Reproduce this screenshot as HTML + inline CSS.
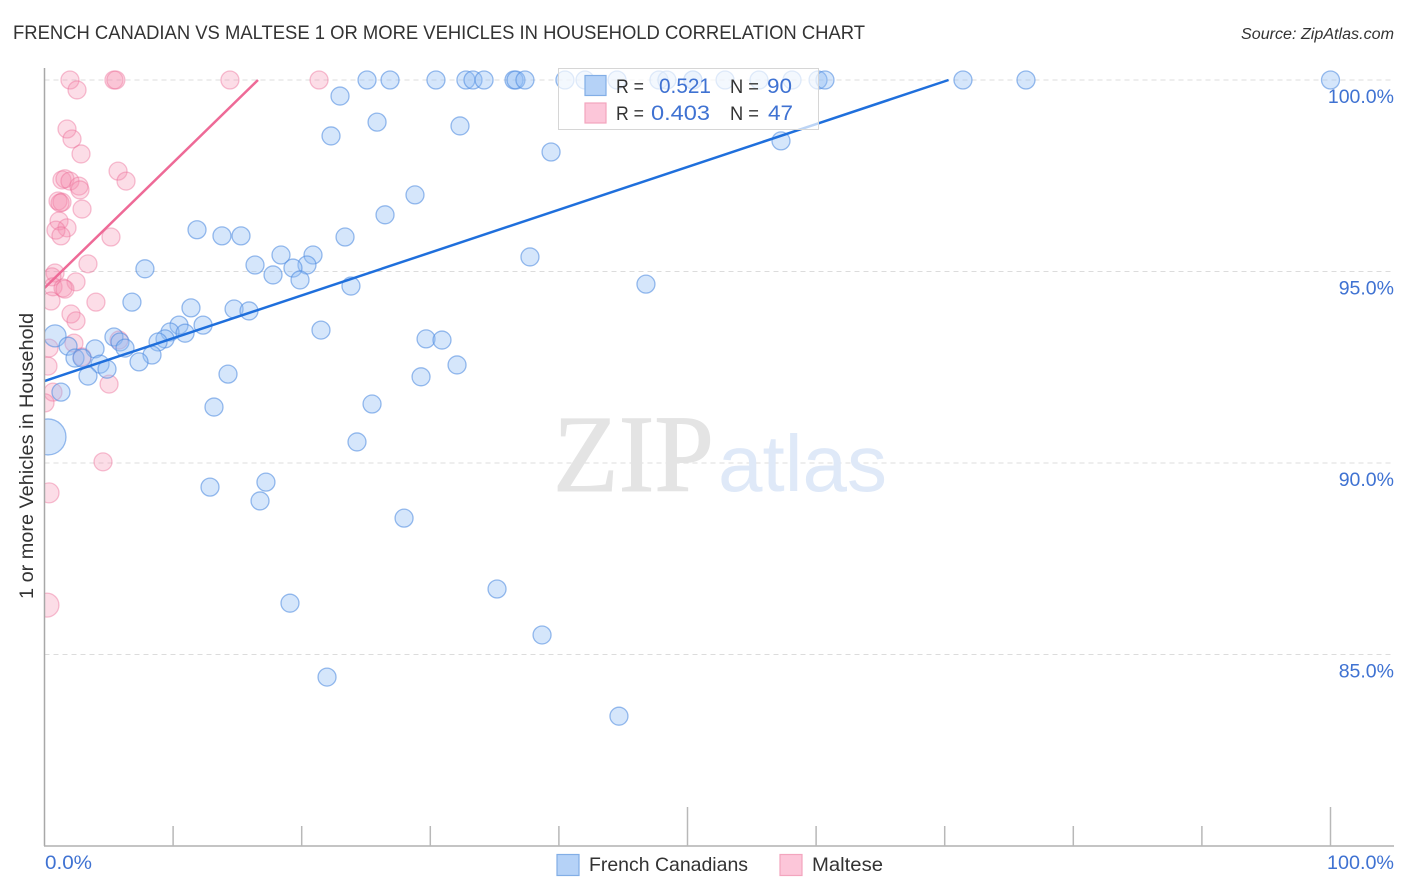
<!DOCTYPE html>
<html lang="en">
<head>
<meta charset="utf-8">
<title>French Canadian vs Maltese 1 or more Vehicles in Household Correlation Chart</title>
<style>
html,body{margin:0;padding:0;background:#fff;width:1406px;height:892px;overflow:hidden}
svg{display:block;font-family:"Liberation Sans",sans-serif}
</style>
</head>
<body>
<svg id="chart" width="1406" height="892" viewBox="0 0 1406 892" xmlns="http://www.w3.org/2000/svg">
  <rect width="1406" height="892" fill="#fff"/>
  <text x="13" y="39" font-size="19.5" fill="#333" textLength="852" lengthAdjust="spacingAndGlyphs">FRENCH CANADIAN VS MALTESE 1 OR MORE VEHICLES IN HOUSEHOLD CORRELATION CHART</text>
  <text x="1241" y="39" font-size="15.5" font-style="italic" fill="#333" textLength="153" lengthAdjust="spacingAndGlyphs">Source: ZipAtlas.com</text>
  <g id="grid"></g>
  <g>
    <text x="553" y="491" font-family="'Liberation Serif',serif" font-size="110" fill="#e4e4e4" stroke="#e4e4e4" stroke-width="1" textLength="161" lengthAdjust="spacingAndGlyphs">ZIP</text>
    <text x="718" y="491" font-size="80" fill="#dfe9f8" textLength="169" lengthAdjust="spacingAndGlyphs">atlas</text>
  </g>
  <g id="points"></g>
  <g id="trends"></g>
  <rect x="0" y="60" width="44.5" height="800" fill="#fff"/>
  <g id="axes">
    <line x1="44.5" y1="68" x2="44.5" y2="846" stroke="#a8a8a8" stroke-width="1.5"/>
    <line x1="44" y1="846" x2="1394" y2="846" stroke="#b0b0b0" stroke-width="1.5"/>
  </g>
  <g id="y-labels"></g>
  <text transform="translate(33,456) rotate(-90)" font-size="19" fill="#333" text-anchor="middle" textLength="286" lengthAdjust="spacingAndGlyphs">1 or more Vehicles in Household</text>
  <text x="45" y="869" font-size="19" fill="#3f72d2" textLength="47" lengthAdjust="spacingAndGlyphs">0.0%</text>
  <text x="1327" y="869" font-size="19" fill="#3f72d2" textLength="67" lengthAdjust="spacingAndGlyphs">100.0%</text>
  <g>
    <rect x="558.5" y="68.5" width="260" height="61" fill="#fff" fill-opacity="0.7" stroke="#d6d6d6" stroke-width="1"/>
    <rect x="585" y="75.500" width="21" height="20" fill="#b5d2f7" stroke="#82aee6" stroke-width="1.2"/>
    <rect x="585" y="103" width="21" height="20" fill="#fcc6d9" stroke="#f3a5be" stroke-width="1.2"/>
    <text x="616" y="93" font-size="19" fill="#333" textLength="28" lengthAdjust="spacingAndGlyphs">R =</text>
    <text x="659" y="93" font-size="21" fill="#3f72d2" textLength="52" lengthAdjust="spacingAndGlyphs">0.521</text>
    <text x="730" y="93" font-size="19" fill="#333" textLength="29" lengthAdjust="spacingAndGlyphs">N =</text>
    <text x="767" y="93" font-size="21" fill="#3f72d2" textLength="25" lengthAdjust="spacingAndGlyphs">90</text>
    <text x="616" y="120" font-size="19" fill="#333" textLength="28" lengthAdjust="spacingAndGlyphs">R =</text>
    <text x="651" y="120" font-size="21" fill="#3f72d2" textLength="59" lengthAdjust="spacingAndGlyphs">0.403</text>
    <text x="730" y="120" font-size="19" fill="#333" textLength="29" lengthAdjust="spacingAndGlyphs">N =</text>
    <text x="768" y="120" font-size="21" fill="#3f72d2" textLength="25" lengthAdjust="spacingAndGlyphs">47</text>
  </g>
  <g>
    <rect x="557" y="854.500" width="22" height="21" fill="#b5d2f7" stroke="#82aee6" stroke-width="1.2"/>
    <text x="589" y="871" font-size="19.500" fill="#333" textLength="159" lengthAdjust="spacingAndGlyphs">French Canadians</text>
    <rect x="780" y="854.500" width="22" height="21" fill="#fcc6d9" stroke="#f3a5be" stroke-width="1.2"/>
    <text x="812" y="871" font-size="19.500" fill="#333" textLength="71" lengthAdjust="spacingAndGlyphs">Maltese</text>
  </g>
</svg>
<script>
const xTicks = [10, 20, 30, 40, 50, 60, 70, 80, 90, 100];
const majorXTicks = [50, 100];
const yTicks = [100, 95, 90, 85];
const yTickLabels = ['100.0%', '95.0%', '90.0%', '85.0%'];

const blueX = [25.08,26.87,30.44,32.77,33.32,34.18,36.51,36.66,37.36,40.47,42.03,44.52,47.78,48.40,50.42,50.42,52.92,55.56,58.13,60.15,60.69,71.42,76.32,100,
22.98,22.28,25.86,32.31,39.39,57.27,28.81,26.48,11.86,13.80,15.28,23.37,37.75,7.81,16.37,18.39,20.88,20.41,19.32,17.77,19.87,23.83,46.77,6.80,11.39,14.74,15.90,21.50,12.33,10.46,9.76,10.93,9.37,8.83,29.67,30.91,0.82,1.83,3.93,5.40,5.87,6.26,8.36,7.35,2.37,2.92,4.32,4.86,3.38,32.08,29.28,14.27,1.28,25.47,13.18,24.30,0.27,12.87,17.22,16.76,27.96,35.19,19.09,38.69,21.97,44.67];
const blueY = [100,100,100,100,100,100,100,100,100,100,100,100,100,100,100,100,100,100,100,100,100,100,100,100,
99.58,98.54,98.90,98.80,98.12,98.41,97.00,96.48,96.09,95.93,95.93,95.90,95.38,95.07,95.17,95.43,95.43,95.17,95.09,94.91,94.78,94.62,94.67,94.20,94.05,94.02,93.97,93.47,93.60,93.60,93.42,93.39,93.24,93.16,93.24,93.21,93.32,93.05,92.98,93.29,93.16,93.00,92.82,92.64,92.74,92.74,92.58,92.45,92.27,92.56,92.25,92.32,91.85,91.54,91.46,90.55,90.68,89.37,89.50,89.01,88.56,86.71,86.34,85.51,84.41,83.39];
const blueLargeIndex = [60, 80];
const blueLargeRadius = [11, 18];

const pinkX = [1.98,2.53,5.40,5.55,14.42,21.35,1.75,2.14,2.84,5.72,6.34,1.36,1.59,1.98,2.68,2.76,1.05,1.36,1.21,2.92,1.13,1.75,0.89,1.28,5.17,3.38,0.82,0.58,2.45,0.66,1.44,1.59,0.51,4.00,2.06,2.45,5.79,2.29,0.35,2.92,0.27,5.02,0.66,0.04,4.55,0.35,0.19];
const pinkY = [100,99.74,100,100,100,100,98.72,98.46,98.07,97.62,97.36,97.39,97.42,97.36,97.23,97.13,96.84,96.81,96.79,96.63,96.32,96.14,96.08,95.93,95.90,95.20,94.96,94.86,94.73,94.60,94.57,94.54,94.23,94.20,93.89,93.71,93.21,93.13,93.00,92.77,92.53,92.06,91.85,91.57,90.03,89.22,86.29];
const pinkLargeIndex = [45, 46];
const pinkLargeRadius = [10, 12];

const blueTrendX = [0, 70.3];
const blueTrendY = [92.14, 100];
const pinkTrendX = [0, 16.6];
const pinkTrendY = [94.57, 100];

const NS = 'http://www.w3.org/2000/svg';
function xScale(v) { return 44.5 + v * 12.86; }
function yScale(v) { return 80 + (100 - v) * 38.3; }

const gridGroup = document.getElementById('grid');
yTicks.forEach(function (t) {
  const g = document.createElementNS(NS, 'line');
  
  
  g.setAttribute('x1', 44.5);
  g.setAttribute('x2', 1394);
  g.setAttribute('y1', yScale(t));
  g.setAttribute('y2', yScale(t));
  g.setAttribute('stroke', '#dcdcdc');
  g.setAttribute('stroke-width', '1');
  g.setAttribute('stroke-dasharray', '5 4');
  gridGroup.appendChild(g);
});

const axesGroup = document.getElementById('axes');
xTicks.forEach(function (t) {
  const k = document.createElementNS(NS, 'line');
  
  
  k.setAttribute('x1', xScale(t));
  k.setAttribute('x2', xScale(t));
  k.setAttribute('y1', majorXTicks.indexOf(t) >= 0 ? 807 : 826);
  k.setAttribute('y2', 846);
  k.setAttribute('stroke', '#b8b8b8');
  k.setAttribute('stroke-width', '1.5');
  axesGroup.appendChild(k);
});

const labelGroup = document.getElementById('y-labels');
yTicks.forEach(function (t, i) {
  const l = document.createElementNS(NS, 'text');
  
  
  l.setAttribute('x', 1394);
  l.setAttribute('y', yScale(t) + 23);
  l.setAttribute('text-anchor', 'end');
  l.setAttribute('font-size', '19.5');
  l.setAttribute('fill', '#3f72d2');
  l.textContent = yTickLabels[i];
  labelGroup.appendChild(l);
});

const pointGroup = document.getElementById('points');
function radiusFor(i, largeIdx, largeR) {
  const p = largeIdx.indexOf(i);
  return p >= 0 ? largeR[p] : 9;
}
pinkX.forEach(function (v, i) {
  const c = document.createElementNS(NS, 'circle');
  
  
  c.setAttribute('cx', xScale(v));
  c.setAttribute('cy', yScale(pinkY[i]));
  c.setAttribute('r', radiusFor(i, pinkLargeIndex, pinkLargeRadius));
  c.setAttribute('fill', '#f48fb1');
  c.setAttribute('fill-opacity', '0.3');
  c.setAttribute('stroke', '#ec6c96');
  c.setAttribute('stroke-opacity', '0.42');
  c.setAttribute('stroke-width', '1.3');
  pointGroup.appendChild(c);
});
blueX.forEach(function (v, i) {
  const c = document.createElementNS(NS, 'circle');
  
  
  c.setAttribute('cx', xScale(v));
  c.setAttribute('cy', yScale(blueY[i]));
  c.setAttribute('r', radiusFor(i, blueLargeIndex, blueLargeRadius));
  c.setAttribute('fill', '#90bcf4');
  c.setAttribute('fill-opacity', '0.38');
  c.setAttribute('stroke', '#4f8ce0');
  c.setAttribute('stroke-opacity', '0.58');
  c.setAttribute('stroke-width', '1.3');
  pointGroup.appendChild(c);
});

const trendGroup = document.getElementById('trends');
const blueTrend = document.createElementNS(NS, 'line');


blueTrend.setAttribute('x1', xScale(blueTrendX[0]));
blueTrend.setAttribute('y1', yScale(blueTrendY[0]));
blueTrend.setAttribute('x2', xScale(blueTrendX[1]));
blueTrend.setAttribute('y2', yScale(blueTrendY[1]));
blueTrend.setAttribute('stroke', '#1f6fdc');
blueTrend.setAttribute('stroke-width', '2.5');
trendGroup.appendChild(blueTrend);
const pinkTrend = document.createElementNS(NS, 'line');


pinkTrend.setAttribute('x1', xScale(pinkTrendX[0]));
pinkTrend.setAttribute('y1', yScale(pinkTrendY[0]));
pinkTrend.setAttribute('x2', xScale(pinkTrendX[1]));
pinkTrend.setAttribute('y2', yScale(pinkTrendY[1]));
pinkTrend.setAttribute('stroke', '#ee6a97');
pinkTrend.setAttribute('stroke-width', '2.5');
trendGroup.appendChild(pinkTrend);
</script>
</body>
</html>
